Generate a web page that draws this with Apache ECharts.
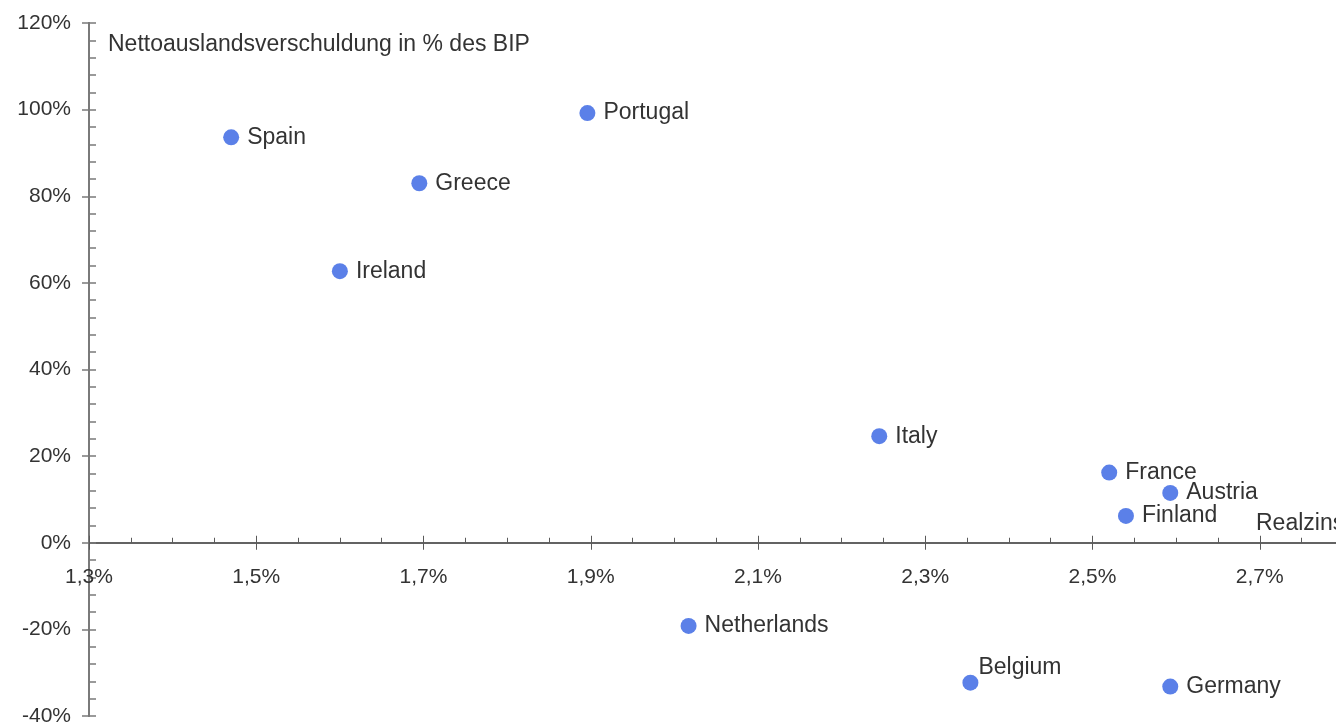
<!DOCTYPE html>
<html>
<head>
<meta charset="utf-8">
<script src="https://cdn.jsdelivr.net/npm/echarts@6/dist/echarts.min.js"></script>
<style>
  html, body { margin: 0; padding: 0; background: #ffffff; }
  #chart { width: 1336px; height: 724px; }
</style>
</head>
<body>
<div id="chart"></div>
<script>
// ---- data ----
const countries = ['Spain', 'Portugal', 'Greece', 'Ireland', 'Italy', 'France', 'Austria', 'Finland', 'Netherlands', 'Belgium', 'Germany'];
const realRate  = [1.47, 1.896, 1.695, 1.60, 2.245, 2.52, 2.593, 2.54, 2.017, 2.354, 2.593];   // x, %
const netDebt   = [93.6, 99.2, 83.0, 62.7, 24.6, 16.2, 11.5, 6.2, -19.2, -32.3, -33.2];         // y, % of GDP
const xRange = [1.3, 2.9];
const xStep = 0.2;
const yRange = [-40, 120];
const yStep = 20;
const yTitle = 'Nettoauslandsverschuldung in % des BIP';
const xTitle = 'Realzins';

// ---- chart ----
const chart = echarts.init(document.getElementById('chart'), null, { renderer: 'canvas' });
const font = 'Liberation Sans, Arial, Helvetica, sans-serif';
const axisColor = '#5a5a5a';
const textColor = '#333333';
const dotColor = '#5b80e8';
const box = { left: 89, top: 23, width: 1338, height: 693, containLabel: false, outerBoundsMode: 'none' };
// x axis sits at y = 0 of the value axis: shift it up from the grid bottom
const zeroOffset = -box.height * (0 - yRange[0]) / (yRange[1] - yRange[0]);

const xFmt = v => v.toFixed(1).replace('.', ',') + '%';
const yFmt = v => Math.round(v) + '%';

const points = countries.map((c, i) => {
  const d = { name: c, value: [realRate[i], netDebt[i]] };
  if (c === 'Belgium') d.label = { position: [16, -7], align: 'left', verticalAlign: 'middle' };
  return d;
});

const baseX = {
  type: 'value', min: xRange[0], max: xRange[1], interval: xStep,
  position: 'bottom', offset: zeroOffset,
  splitLine: { show: false },
  axisLine: { onZero: false, lineStyle: { color: axisColor, width: 1.5 } }
};
const baseY = {
  type: 'value', min: yRange[0], max: yRange[1], interval: yStep,
  position: 'left',
  splitLine: { show: false },
  axisLine: { onZero: false, lineStyle: { color: '#7a7a7a', width: 2 } }
};

const option = {
  animation: false,
  backgroundColor: '#ffffff',
  textStyle: { fontFamily: font },
  grid: [Object.assign({}, box), Object.assign({}, box)],
  xAxis: [
    Object.assign({}, baseX, {
      gridIndex: 0,
      axisTick: { show: true, inside: false, length: 7, lineStyle: { color: axisColor, width: 1 } },
      minorTick: { show: false },
      axisLabel: { formatter: xFmt, fontSize: 21, color: textColor, margin: 24, showMaxLabel: false, fontFamily: font }
    }),
    Object.assign({}, baseX, {
      gridIndex: 1,
      axisTick: { show: true, inside: true, length: 7, lineStyle: { color: axisColor, width: 1 } },
      minorTick: { show: true, splitNumber: 4, length: 5, lineStyle: { color: axisColor, width: 1 } },
      axisLabel: { show: false }
    })
  ],
  yAxis: [
    Object.assign({}, baseY, {
      gridIndex: 0,
      axisTick: { show: true, inside: false, length: 7, lineStyle: { color: '#7a7a7a', width: 1.5 } },
      minorTick: { show: false },
      axisLabel: { formatter: yFmt, fontSize: 21, color: textColor, margin: 18, fontFamily: font }
    }),
    Object.assign({}, baseY, {
      gridIndex: 1,
      axisTick: { show: true, inside: true, length: 7, lineStyle: { color: '#7a7a7a', width: 1.5 } },
      minorTick: { show: true, splitNumber: 5, length: 7, lineStyle: { color: '#7a7a7a', width: 1.5 } },
      axisLabel: { show: false }
    })
  ],
  graphic: [
    { type: 'text', left: 108, top: 33, z: 10,
      style: { text: yTitle, font: '23px ' + font, fill: textColor } },
    { type: 'text', left: 1256, top: 512, z: 10,
      style: { text: xTitle, font: '23px ' + font, fill: textColor } }
  ],
  series: [{
    type: 'scatter',
    xAxisIndex: 0, yAxisIndex: 0,
    symbol: 'circle',
    symbolSize: 16,
    itemStyle: { color: dotColor, opacity: 1 },
    label: {
      show: true, position: 'right', distance: 8,
      formatter: p => p.name,
      fontSize: 23, color: textColor, fontFamily: font
    },
    data: points
  }]
};
chart.setOption(option);
</script>
</body>
</html>
